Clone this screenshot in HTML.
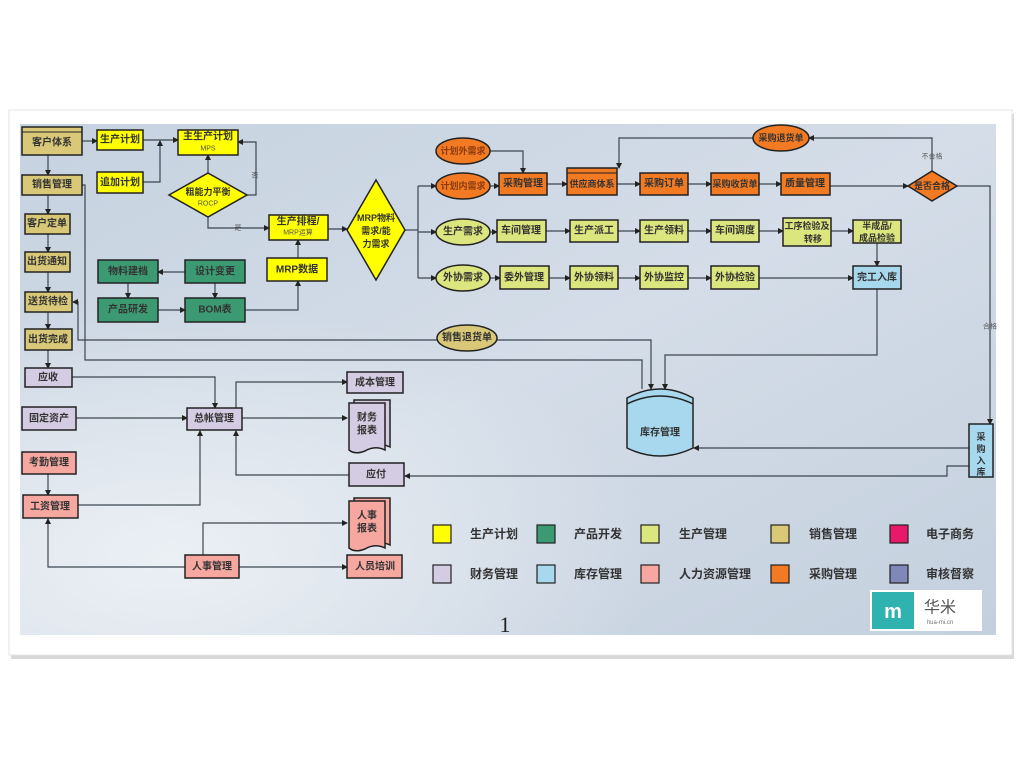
<!DOCTYPE html>
<html><head><meta charset="utf-8"><style>
html,body{margin:0;padding:0;background:#fff;}
svg{display:block;font-family:"Liberation Sans","Noto Sans CJK SC",sans-serif;}
.t{font-size:10px;font-weight:bold;fill:#333;text-anchor:middle;dominant-baseline:central;}
.s{font-size:7px;fill:#555;text-anchor:middle;dominant-baseline:central;}
.l{fill:none;stroke:#3c4650;stroke-width:1.2;}
.lg{font-size:12px;font-weight:bold;fill:#333;dominant-baseline:central;}
</style></head><body>
<svg width="1024" height="768" viewBox="0 0 1024 768">
<defs>
<marker id="a" markerWidth="6" markerHeight="6" refX="5" refY="3" orient="auto" markerUnits="userSpaceOnUse"><path d="M0,0 L6,3 L0,6z" fill="#222"/></marker>
<linearGradient id="bg" x1="0" y1="0" x2="1" y2="1">
<stop offset="0" stop-color="#c6d2e0"/><stop offset="0.5" stop-color="#d4dde8"/><stop offset="1" stop-color="#c4d0de"/></linearGradient>
<radialGradient id="lt" cx="0.15" cy="0.85" r="0.5"><stop offset="0" stop-color="#eef2f6" stop-opacity="0.9"/><stop offset="1" stop-color="#eef2f6" stop-opacity="0"/></radialGradient>
</defs>
<rect x="0" y="0" width="1024" height="768" fill="#fff"/>
<rect x="11" y="114" width="1003" height="545" fill="#d8d8d8"/>
<rect x="9" y="110" width="1003" height="545" fill="#fff" stroke="#e4e4e4" stroke-width="1"/>
<rect x="20" y="124" width="976" height="511" fill="url(#bg)"/>
<rect x="20" y="124" width="976" height="511" fill="url(#lt)"/>

<g class="l">
<path d="M48,155V175" marker-end="url(#a)"/>
<path d="M48,195V214" marker-end="url(#a)"/>
<path d="M48,234V252" marker-end="url(#a)"/>
<path d="M48,272V292" marker-end="url(#a)"/>
<path d="M48,312V329" marker-end="url(#a)"/>
<path d="M48,350V368" marker-end="url(#a)"/>
<path d="M82,141H97" marker-end="url(#a)"/>
<path d="M143,140H178" marker-end="url(#a)"/>
<path d="M143,182H160V141" marker-end="url(#a)"/>
<path d="M208,173V155" marker-end="url(#a)"/>
<path d="M247,195H256V142H238" marker-end="url(#a)"/>
<path d="M208,217V228H269" marker-end="url(#a)"/>
<path d="M298,258V240" marker-end="url(#a)"/>
<path d="M245,310H298V281" marker-end="url(#a)"/>
<path d="M185,272H158" marker-end="url(#a)"/>
<path d="M128,283V298" marker-end="url(#a)"/>
<path d="M215,283V298" marker-end="url(#a)"/>
<path d="M158,310H185" marker-end="url(#a)"/>
<path d="M328,229H347" marker-end="url(#a)"/>
<path d="M405,230H418"/>
<path d="M418,186V278"/>
<path d="M418,186H436" marker-end="url(#a)"/>
<path d="M418,232H436" marker-end="url(#a)"/>
<path d="M418,278H436" marker-end="url(#a)"/>
<path d="M490,151H523V173" marker-end="url(#a)"/>
<path d="M490,186H499" marker-end="url(#a)"/>
<path d="M547,184H567" marker-end="url(#a)"/>
<path d="M617,184H640" marker-end="url(#a)"/>
<path d="M688,184H711" marker-end="url(#a)"/>
<path d="M759,184H781" marker-end="url(#a)"/>
<path d="M830,186H908" marker-end="url(#a)"/>
<path d="M932,171V138H809" marker-end="url(#a)"/>
<path d="M753,138H619V168" marker-end="url(#a)"/>
<path d="M957,186H990V424" marker-end="url(#a)"/>
<path d="M490,232H497" marker-end="url(#a)"/>
<path d="M546,231H570" marker-end="url(#a)"/>
<path d="M618,231H640" marker-end="url(#a)"/>
<path d="M688,231H711" marker-end="url(#a)"/>
<path d="M759,231H783" marker-end="url(#a)"/>
<path d="M831,231H853" marker-end="url(#a)"/>
<path d="M877,243V266" marker-end="url(#a)"/>
<path d="M490,278H500" marker-end="url(#a)"/>
<path d="M549,278H570" marker-end="url(#a)"/>
<path d="M618,278H640" marker-end="url(#a)"/>
<path d="M688,278H711" marker-end="url(#a)"/>
<path d="M759,278H853" marker-end="url(#a)"/>
<path d="M877,289V355H665V389" marker-end="url(#a)"/>
<path d="M437,340H78V302H73" marker-end="url(#a)"/>
<path d="M497,340H651V389" marker-end="url(#a)"/>
<path d="M82,185H85V360H642V389"/>
<path d="M969,448H694" marker-end="url(#a)"/>
<path d="M969,466H947V476H405" marker-end="url(#a)"/>
<path d="M72,377H215V408" marker-end="url(#a)"/>
<path d="M76,418H187" marker-end="url(#a)"/>
<path d="M236,408V382H347" marker-end="url(#a)"/>
<path d="M242,418H347" marker-end="url(#a)"/>
<path d="M349,475H236V431" marker-end="url(#a)"/>
<path d="M78,505H200V431" marker-end="url(#a)"/>
<path d="M48,474V495" marker-end="url(#a)"/>
<path d="M185,567H48V519" marker-end="url(#a)"/>
<path d="M203,555V523H347" marker-end="url(#a)"/>
<path d="M239,567H347" marker-end="url(#a)"/>
</g>
<text class="s" x="255" y="176">否</text>
<text class="s" x="238" y="228">是</text>
<text class="s" x="932" y="157">不合格</text>
<text class="s" x="990" y="327">合格</text>

<g stroke="#222" stroke-width="1.5">
<g fill="#d8c878">
<rect x="22" y="127" width="60" height="28"/>
<rect x="22" y="175" width="60" height="20"/>
<rect x="25" y="214" width="45" height="20"/>
<rect x="25" y="252" width="45" height="20"/>
<rect x="25" y="292" width="47" height="20"/>
<rect x="25" y="329" width="47" height="21"/>
<ellipse cx="467" cy="338" rx="30" ry="13"/>
</g>
<g fill="#ffff00">
<rect x="97" y="130" width="46" height="20"/>
<rect x="97" y="172" width="46" height="21"/>
<rect x="178" y="130" width="60" height="25"/>
<path d="M208,173L247,195L208,217L169,195z"/>
<rect x="269" y="215" width="59" height="25"/>
<rect x="267" y="258" width="60" height="23"/>
<path d="M376,180L405,230L376,280L347,230z"/>
</g>
<g fill="#3c9a72">
<rect x="98" y="260" width="60" height="23"/>
<rect x="185" y="260" width="60" height="23"/>
<rect x="98" y="298" width="60" height="24"/>
<rect x="185" y="298" width="60" height="24"/>
</g>
<g fill="#f27a22">
<ellipse cx="463" cy="151" rx="27" ry="13"/>
<ellipse cx="463" cy="186" rx="27" ry="13"/>
<ellipse cx="781" cy="138" rx="28" ry="13"/>
<rect x="499" y="173" width="48" height="22"/>
<rect x="567" y="168" width="50" height="27"/>
<rect x="640" y="173" width="48" height="22"/>
<rect x="711" y="173" width="48" height="22"/>
<rect x="781" y="173" width="49" height="22"/>
<path d="M932,171L957,186L932,201L908,186z"/>
</g>
<g fill="#dce67e">
<ellipse cx="463" cy="232" rx="27" ry="13"/>
<ellipse cx="463" cy="278" rx="27" ry="13"/>
<rect x="497" y="220" width="49" height="22"/>
<rect x="570" y="220" width="48" height="22"/>
<rect x="640" y="220" width="48" height="22"/>
<rect x="711" y="220" width="48" height="22"/>
<rect x="783" y="218" width="48" height="28"/>
<rect x="853" y="220" width="48" height="23"/>
<rect x="500" y="266" width="49" height="23"/>
<rect x="570" y="266" width="48" height="23"/>
<rect x="640" y="266" width="48" height="23"/>
<rect x="711" y="266" width="48" height="23"/>
</g>
<g fill="#a8d8ee">
<rect x="853" y="266" width="48" height="23"/>
<rect x="969" y="424" width="24" height="53"/>
<path d="M627,398 Q660,380 693,398 V448 Q660,464 627,448 Z"/>
</g>
<path d="M627,404 Q660,388 693,404" fill="none"/>
<g fill="#d4cce2">
<rect x="25" y="368" width="47" height="19"/>
<rect x="22" y="407" width="54" height="23"/>
<rect x="187" y="408" width="55" height="22"/>
<rect x="347" y="372" width="56" height="21"/>
<rect x="349" y="463" width="55" height="23"/>
<path d="M354,400H390V447Q380,442 370,448Q360,452 354,447Z"/>
<path d="M349,403H385V450Q375,445 365,451Q355,455 349,450Z"/>
</g>
<g fill="#f6a8a0">
<rect x="22" y="452" width="54" height="22"/>
<rect x="23" y="495" width="55" height="23"/>
<rect x="185" y="555" width="54" height="23"/>
<rect x="347" y="555" width="55" height="23"/>
<path d="M354,498H390V545Q380,540 370,546Q360,550 354,545Z"/>
<path d="M349,501H385V548Q375,543 365,549Q355,553 349,548Z"/>
</g>
</g>
<g stroke="#222" stroke-width="1">
<path d="M22,132H82"/><path d="M567,173H617"/>
</g>

<g class="t">
<text x="52" y="143">客户体系</text>
<text x="52" y="185">销售管理</text>
<text x="47" y="224">客户定单</text>
<text x="47" y="262">出货通知</text>
<text x="48" y="302">送货待检</text>
<text x="48" y="340">出货完成</text>
<text x="467" y="338">销售退货单</text>
<text x="120" y="140">生产计划</text>
<text x="120" y="183">追加计划</text>
<text x="208" y="137">主生产计划</text>
<text x="208" y="192" style="font-size:9px">粗能力平衡</text>
<text x="298" y="222">生产排程/</text>
<text x="297" y="270">MRP数据</text>
<text x="376" y="218" style="font-size:9px">MRP物料</text>
<text x="376" y="231" style="font-size:9px">需求/能</text>
<text x="376" y="244" style="font-size:9px">力需求</text>
<text x="128" y="272">物料建档</text>
<text x="215" y="272">设计变更</text>
<text x="128" y="310">产品研发</text>
<text x="215" y="310">BOM表</text>
<text x="463" y="151" style="fill:#8a3a10;font-size:9px">计划外需求</text>
<text x="463" y="186" style="fill:#8a3a10;font-size:9px">计划内需求</text>
<text x="781" y="138" style="font-size:9px">采购退货单</text>
<text x="523" y="184">采购管理</text>
<text x="592" y="184" style="font-size:9px">供应商体系</text>
<text x="664" y="184">采购订单</text>
<text x="735" y="184" style="font-size:9px">采购收货单</text>
<text x="805" y="184">质量管理</text>
<text x="932" y="186" style="font-size:9px">是否合格</text>
<text x="463" y="232">生产需求</text>
<text x="463" y="278">外协需求</text>
<text x="521" y="231">车间管理</text>
<text x="594" y="231">生产派工</text>
<text x="664" y="231">生产领料</text>
<text x="735" y="231">车间调度</text>
<text x="807" y="226" style="font-size:9px">工序检验及</text>
<text x="813" y="239" style="font-size:9px">转移</text>
<text x="877" y="226" style="font-size:9px">半成品/</text>
<text x="877" y="238" style="font-size:9px">成品检验</text>
<text x="524" y="278">委外管理</text>
<text x="594" y="278">外协领料</text>
<text x="664" y="278">外协监控</text>
<text x="735" y="278">外协检验</text>
<text x="877" y="278">完工入库</text>
<text x="660" y="433">库存管理</text>
<text x="981" y="437" style="font-size:9px">采</text>
<text x="981" y="449" style="font-size:9px">购</text>
<text x="981" y="461" style="font-size:9px">入</text>
<text x="981" y="472" style="font-size:9px">库</text>
<text x="48" y="378">应收</text>
<text x="49" y="419">固定资产</text>
<text x="214" y="419">总帐管理</text>
<text x="375" y="383">成本管理</text>
<text x="376" y="475">应付</text>
<text x="367" y="418">财务</text>
<text x="367" y="431">报表</text>
<text x="49" y="463">考勤管理</text>
<text x="50" y="507">工资管理</text>
<text x="212" y="567">人事管理</text>
<text x="375" y="567">人员培训</text>
<text x="367" y="516">人事</text>
<text x="367" y="529">报表</text>
</g>
<text class="s" x="208" y="149">MPS</text>
<text class="s" x="208" y="204">ROCP</text>
<text class="s" x="298" y="233">MRP运算</text>

<g stroke="#222" stroke-width="1.2">
<rect x="433" y="525" width="18" height="18" fill="#ffff00"/>
<rect x="537" y="525" width="18" height="18" fill="#3c9a72"/>
<rect x="641" y="525" width="18" height="18" fill="#dce67e"/>
<rect x="771" y="525" width="18" height="18" fill="#d8c878"/>
<rect x="890" y="525" width="18" height="18" fill="#e8186a"/>
<rect x="433" y="565" width="18" height="18" fill="#d4cce2"/>
<rect x="537" y="565" width="18" height="18" fill="#a8d8ee"/>
<rect x="641" y="565" width="18" height="18" fill="#f6a8a0"/>
<rect x="771" y="565" width="18" height="18" fill="#f27a22"/>
<rect x="890" y="565" width="18" height="18" fill="#8088b8"/>
</g>
<g class="lg">
<text x="470" y="534">生产计划</text>
<text x="574" y="534">产品开发</text>
<text x="679" y="534">生产管理</text>
<text x="809" y="534">销售管理</text>
<text x="926" y="534">电子商务</text>
<text x="470" y="574">财务管理</text>
<text x="574" y="574">库存管理</text>
<text x="679" y="574">人力资源管理</text>
<text x="809" y="574">采购管理</text>
<text x="926" y="574">审核督察</text>
</g>
<text x="505" y="632" style="font-family:'Liberation Serif',serif;font-size:22px;fill:#222" text-anchor="middle">1</text>
<rect x="870" y="590" width="112" height="41" fill="#fff"/>
<rect x="872" y="592" width="42" height="37" fill="#2fb2b0"/>
<text x="893" y="612" style="font-size:20px;font-weight:bold;fill:#fff" text-anchor="middle" dominant-baseline="central">m</text>
<text x="940" y="608" style="font-size:16px;fill:#555" text-anchor="middle" dominant-baseline="central">华米</text>
<text x="940" y="624" style="font-size:6px;fill:#777" text-anchor="middle">hua-mi.cn</text>
</svg>
</body></html>
